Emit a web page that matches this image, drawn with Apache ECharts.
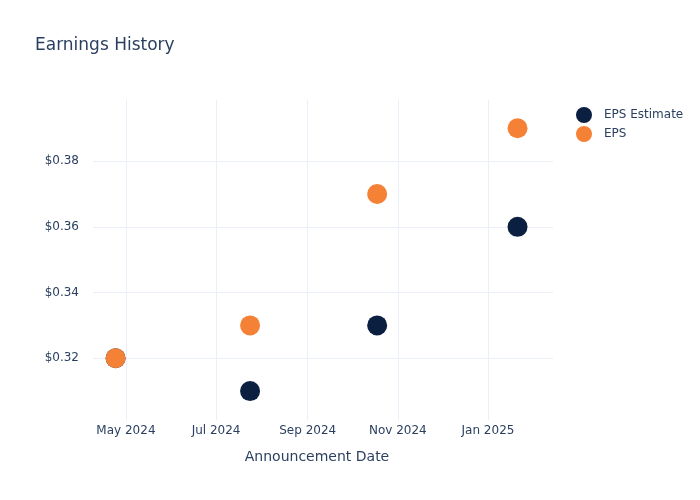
<!DOCTYPE html>
<html>
<head>
<meta charset="utf-8">
<script src="https://cdn.jsdelivr.net/npm/echarts@6/dist/echarts.min.js"></script>
<style>html,body{margin:0;padding:0;background:#fff}#c{width:700px;height:500px}</style>
</head>
<body>
<div id="c"></div>
<script>
const dates = ['2024-04-24', '2024-07-24', '2024-10-18', '2025-01-21'];
const epsEstimate = [0.32, 0.31, 0.33, 0.36];
const eps = [0.32, 0.33, 0.37, 0.39];
const xTickDates = ['2024-05-01', '2024-07-01', '2024-09-01', '2024-11-01', '2025-01-01'];
const xTickLabels = ['May 2024', 'Jul 2024', 'Sep 2024', 'Nov 2024', 'Jan 2025'];
const yTicks = [0.32, 0.34, 0.36, 0.38];
const xRange = ['2024-04-08T17:00:00', '2025-02-14T00:00:00'];
const yRange = [0.3012, 0.3986];

const textColor = '#2a3f5f';
const font = 'DejaVu Sans';
const ts = d => new Date(d.length === 10 ? d + 'T00:00:00' : d).getTime();
const xTickVals = xTickDates.map(ts);

const chart = echarts.init(document.getElementById('c'), null, {renderer: 'canvas'});
chart.setOption({
  animation: false,
  backgroundColor: '#fff',
  textStyle: {fontFamily: font, color: textColor},
  title: {
    text: 'Earnings History', left: 30, top: 32,
    textStyle: {fontFamily: font, fontSize: 17, fontWeight: 'normal', color: textColor}
  },
  legend: {
    left: 571, top: 102, orient: 'vertical', icon: 'circle',
    itemWidth: 16, itemHeight: 16, itemGap: 3,
    textStyle: {fontFamily: font, fontSize: 12, color: textColor, padding: [0, 0, 0, 7]},
    data: ['EPS Estimate', 'EPS']
  },
  grid: {left: 93, right: 147, top: 100, bottom: 80, containLabel: false},
  xAxis: {
    type: 'value', min: ts(xRange[0]), max: ts(xRange[1]),
    name: 'Announcement Date', nameLocation: 'middle', nameGap: 30,
    nameTextStyle: {fontFamily: font, fontSize: 14, color: textColor, padding: [0, 12, 0, 0]},
    axisLine: {show: false},
    axisTick: {show: false, customValues: xTickVals},
    axisLabel: {
      customValues: xTickVals, margin: 5, fontSize: 12, color: textColor, fontFamily: font,
      formatter: v => { const i = xTickVals.indexOf(v); return i >= 0 ? xTickLabels[i] : ''; }
    },
    splitLine: {show: true, lineStyle: {color: '#ebf0f8', width: 1}}
  },
  yAxis: {
    type: 'value', min: yRange[0], max: yRange[1],
    axisLine: {show: false},
    axisTick: {show: false, customValues: yTicks},
    axisLabel: {
      customValues: yTicks, margin: 14, fontSize: 12, color: textColor, fontFamily: font,
      formatter: v => '$' + v.toFixed(2)
    },
    splitLine: {show: true, lineStyle: {color: '#ebf0f8', width: 1}}
  },
  series: [
    {
      name: 'EPS Estimate', type: 'scatter', symbolSize: 20,
      itemStyle: {color: '#0b1f41', opacity: 1},
      data: dates.map((d, i) => [ts(d), epsEstimate[i]])
    },
    {
      name: 'EPS', type: 'scatter', symbolSize: 20,
      itemStyle: {color: '#f58136', opacity: 1},
      data: dates.map((d, i) => [ts(d), eps[i]])
    }
  ]
});
</script>
</body>
</html>
